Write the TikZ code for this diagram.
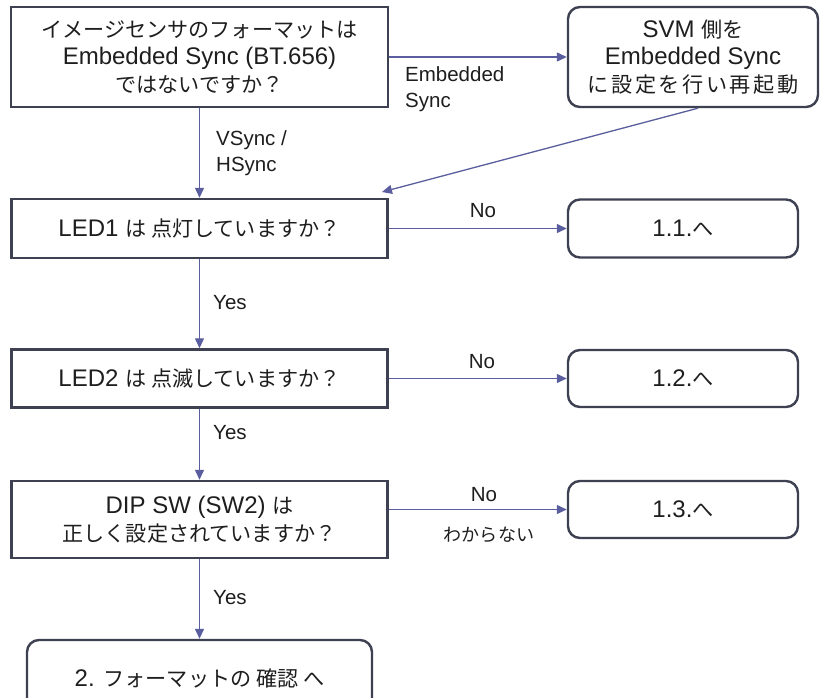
\documentclass[tikz,border=0pt]{standalone}
\usepackage{fontspec}
\setmainfont{Liberation Sans}
\newfontfamily\jp[Scale=0.88]{Noto Sans CJK JP}
\usetikzlibrary{arrows.meta}
\definecolor{boxc}{HTML}{3E4152}
\definecolor{arrc}{HTML}{5B5E9E}
\definecolor{txt}{HTML}{1E1E1E}
\begin{document}
\begin{tikzpicture}[x=1pt,y=-1pt,
  every node/.style={text=txt},
  sqbox/.style={draw=boxc, line width=2.4pt, inner sep=0pt, align=center,
    font=\fontsize{24}{27.5}\selectfont},
  rbox/.style={sqbox, rounded corners=12pt},
  conn/.style={draw=arrc, line width=1.3pt, -{Triangle[length=10pt,width=9pt]}},
  lbl/.style={inner sep=0pt, align=left, font=\fontsize{20.5}{26}\selectfont}]
\useasboundingbox (0,0) rectangle (820,697);
\clip (0,0) rectangle (820,697);
\fill[white] (0,0) rectangle (820,697);

\node[sqbox, minimum width=377pt, minimum height=100pt] (q1) at (199.5,57)
  {{\jp イメージセンサのフォーマットは}\\Embedded Sync (BT.656)\\{\jp ではないですか？}};
\node[rbox, minimum width=250pt, minimum height=100pt] (svm) at (693,57)
  {SVM {\jp 側を}\\Embedded Sync\\{\jp\addfontfeature{LetterSpace=12}に設定を行い再起動}};
\node[sqbox, minimum width=376pt, minimum height=59pt] (led1) at (199.5,228.5)
  {LED1 {\jp は 点灯していますか？}};
\node[sqbox, minimum width=376pt, minimum height=58pt] (led2) at (199.5,378.5)
  {LED2 {\jp は 点滅していますか？}};
\node[sqbox, minimum width=376pt, minimum height=77pt] (dip) at (199.5,519.5)
  {DIP SW (SW2) {\jp は}\\{\jp 正しく設定されていますか？}};
\node[rbox, minimum width=230pt, minimum height=58pt] (r11) at (683,228.5) {1.1.{\jp へ}};
\node[rbox, minimum width=230pt, minimum height=57pt] (r12) at (683,378.5) {1.2.{\jp へ}};
\node[rbox, minimum width=230pt, minimum height=57pt] (r13) at (683,509.5) {1.3.{\jp へ}};
\node[rbox, minimum width=345pt, minimum height=76pt] (fin) at (199.5,678)
  {2. {\jp フォーマットの 確認 へ}};

\coordinate (dg) at (382,192);

\draw[conn] (q1.east) -- (svm.west);
\draw[conn] (q1.south) -- (led1.north);
\draw[conn] ([xshift=5pt]svm.south) -- (dg);
\draw[conn] (led1.east) -- (r11.west);
\draw[conn] (led1.south) -- (led2.north);
\draw[conn] (led2.east) -- (r12.west);
\draw[conn] (led2.south) -- (dip.north);
\draw[conn] (dip.east |- r13.west) -- (r13.west);
\draw[conn] (dip.south) -- (fin.north);

\node[lbl, anchor=north west] (l1) at (405,66) {Embedded\\Sync};
\node[lbl, anchor=north west] (l2) at (216,130) {VSync /\\HSync};
\node[lbl] (l3) at (483,211) {No};
\node[lbl, anchor=west] (l4) at (213,303) {Yes};
\node[lbl] (l5) at (482,362) {No};
\node[lbl, anchor=west] (l6) at (213,433) {Yes};
\node[lbl] (l7) at (484,495) {No};
\node[lbl] (l8) at (489,535) {\jp わからない};
\node[lbl, anchor=west] (l9) at (213,598) {Yes};
\end{tikzpicture}
\end{document}
